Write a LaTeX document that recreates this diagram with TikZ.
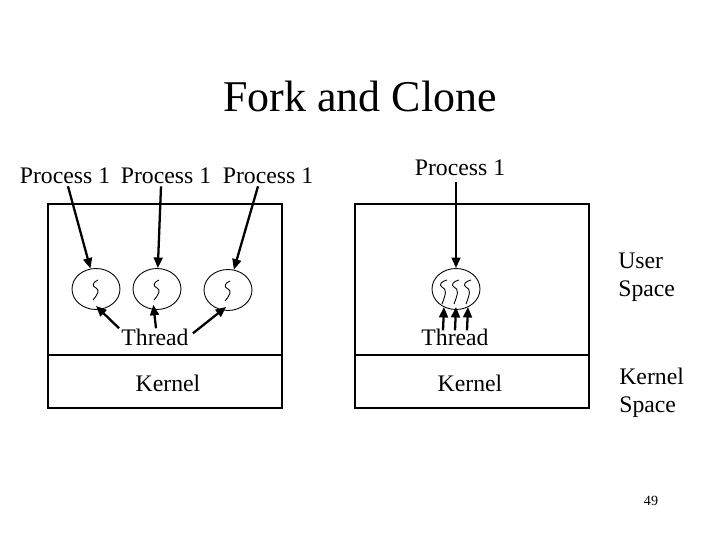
\documentclass[tikz,border=0pt]{standalone}
\usepackage{fontspec}
\setmainfont{Liberation Serif}
\usetikzlibrary{arrows.meta,shapes.geometric}

\tikzset{
  squig/.pic={\draw[line width=0.5pt] (2,-9) .. controls (-3,-7) and (-5,-3) .. (0,-1)
                 .. controls (4,1) and (2,5) .. (-3,11);},
  wavy/.pic={\draw[line width=0.5pt] (3,-9) .. controls (-2,-8) and (-6,-4) .. (-2,-2)
                 .. controls (3,0) and (2,5) .. (-2,15);}
}

\begin{document}
\begin{tikzpicture}[
  x=0.02cm,
  y=-0.02cm,
  every node/.style={font=\fontsize{13.5}{16}\selectfont, inner sep=0pt},
  panel/.style={draw, line width=0.6pt},
  thread/.style={ellipse, draw, line width=0.5pt, minimum width=0.96cm, minimum height=0.82cm},
  forkarrow/.style={line width=1.3pt, -{Triangle[length=6pt, width=5pt]}},
  lbl/.style={align=left, anchor=west}
]
  % ---- page ----
  \useasboundingbox (0,0) rectangle (720,540);

  % ---- title ----
  \node (title) at (360,96) {\fontsize{25}{30}\selectfont Fork and Clone};

  % ---- boxes: user part above, kernel part below ----
  \draw[panel] (48,204) rectangle (282,408);
  \draw[panel] (48,355) -- (282,355);
  \draw[panel] (355,204) rectangle (589,408);
  \draw[panel] (355,355) -- (589,355);

  % ---- fork: three processes, one thread each ----
  \node (proc1) at (65,176)  {Process 1};
  \node (proc2) at (166,176) {Process 1};
  \node (proc3) at (268,176) {Process 1};

  \node[thread] (thr1) at (96,289)  {};
  \node[thread] (thr2) at (157,289) {};
  \node[thread] (thr3) at (228,290) {};
  \foreach \t in {thr1,thr2,thr3}
    \pic at (\t) {squig};

  \draw[forkarrow] ([xshift=3*0.02cm, yshift=-2*0.02cm]proc1.south) -- (thr1);
  \draw[forkarrow] ([xshift=-5*0.02cm, yshift=-2*0.02cm]proc2.south) -- (thr2);
  \draw[forkarrow] ([xshift=-10*0.02cm, yshift=-2*0.02cm]proc3.south) -- (thr3);

  \node (lblthrA) at (155,337) {Thread};
  \draw[forkarrow] ([xshift=-2*0.02cm]lblthrA.north west) -- ([yshift=4*0.02cm]thr1.south);
  \draw[forkarrow] ([xshift=1*0.02cm]lblthrA.north) -- ([yshift=5*0.02cm]thr2.-100);
  \draw[forkarrow] ([xshift=4*0.02cm, yshift=-5*0.02cm]lblthrA.north east) -- ([yshift=4*0.02cm]thr3.-95);

  \node (kerA) at (168,383) {Kernel};

  % ---- clone: one process, three threads ----
  \node (proc4) at (460,168) {Process 1};
  \node[thread] (thrc) at (456,289) {};
  \foreach \dx in {-12,0,12}
    \pic at ([xshift=\dx*0.02cm]thrc.center) {wavy};

  \draw[forkarrow] ([xshift=-4*0.02cm, yshift=-6*0.02cm]proc4.south) -- (thrc.north);

  \node (lblthrB) at (455,337) {Thread};
  \foreach \dx in {-12,0,12}
    \draw[forkarrow] ([xshift=\dx*0.02cm, yshift=-2*0.02cm]lblthrB.north) -- ([xshift=\dx*0.02cm, yshift=3*0.02cm]thrc.south);

  \node (kerB) at (470,383) {Kernel};

  % ---- side labels ----
  \node[lbl] (user)   at (618,277) {User\\Space};
  \node[lbl] (kspace) at (619,393) {Kernel\\Space};

  \node (pgnum) at (651,501) {\fontsize{8}{10}\selectfont 49};
\end{tikzpicture}
\end{document}
